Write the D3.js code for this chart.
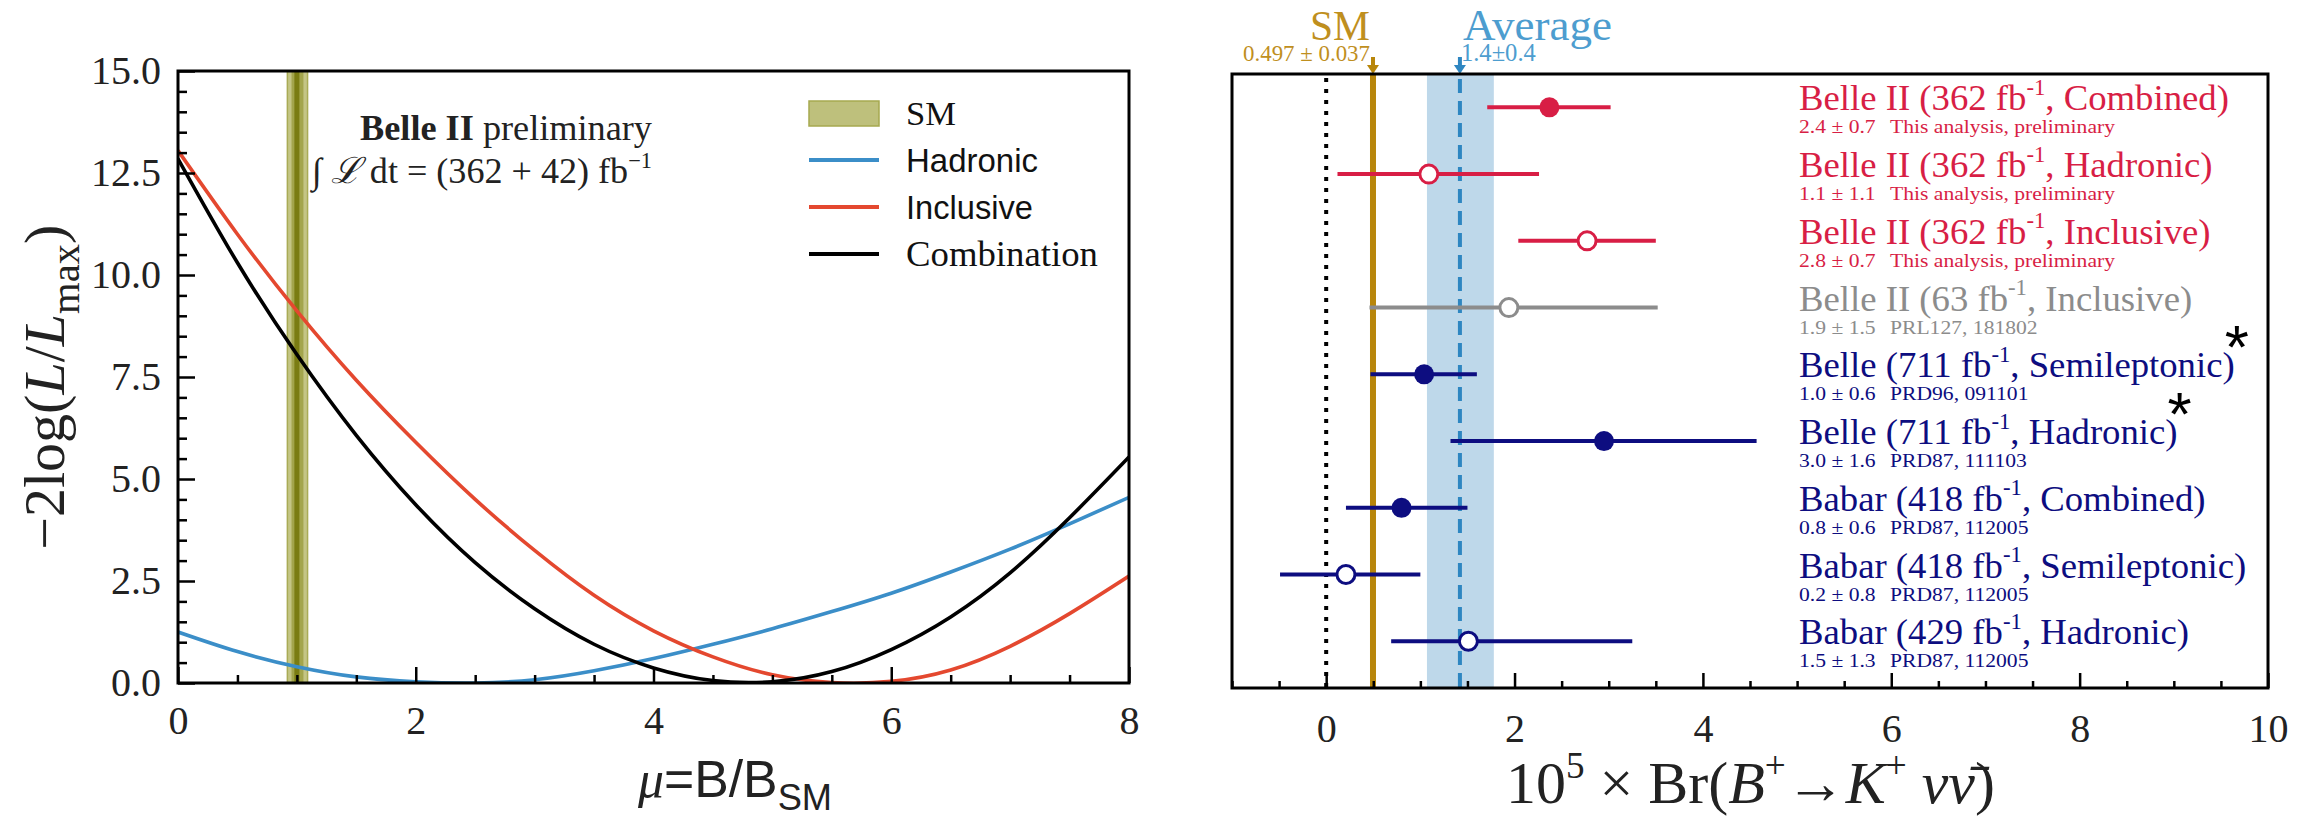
<!DOCTYPE html>
<html>
<head>
<meta charset="utf-8">
<script src="https://cdn.jsdelivr.net/npm/d3@7"></script>
<style>
  body { margin: 0; background: #fff; }
</style>
</head>
<body>
<main></main>
<script>
const sizeOfSVG = { width: 2314, height: 818 }
const serif = '"Liberation Serif", "DejaVu Serif", serif'
const sans = '"Liberation Sans", "DejaVu Sans", sans-serif'

// ---- left panel: likelihood scans vs mu ----
const muGrid = [0, 0.5, 1, 1.5, 2, 2.5, 3, 3.5, 4, 4.5, 5, 5.5, 6, 6.5, 7, 7.5, 8]
const hadronicScan = [1.25, 0.77, 0.40, 0.15, 0.03, 0.0, 0.08, 0.30, 0.60, 0.95, 1.33, 1.75, 2.20, 2.72, 3.28, 3.90, 4.55]
const inclusiveScan = [13.05, 11.0, 9.12, 7.42, 5.9, 4.5, 3.25, 2.15, 1.28, 0.64, 0.2, 0.01, 0.04, 0.32, 0.9, 1.7, 2.62]
const combinationScan = [12.85, 10.3, 8.05, 6.07, 4.37, 2.95, 1.82, 0.95, 0.37, 0.06, 0.03, 0.28, 0.82, 1.62, 2.7, 4.05, 5.54]
const smMu = 1.0
const smMuBand = [0.92, 1.09]
const smMuCore = [0.955, 1.055]
const muTicks = [0, 2, 4, 6, 8]
const nllTicks = [0, 2.5, 5, 7.5, 10, 12.5, 15]
const legendNames = ['SM', 'Hadronic', 'Inclusive', 'Combination']

// ---- right panel: measurements of Br(B+ -> K+ nu nubar) x 1e5 ----
const experiments = ['Belle II', 'Belle II', 'Belle II', 'Belle II', 'Belle', 'Belle', 'Babar', 'Babar', 'Babar']
const lumis = ['362', '362', '362', '63', '711', '711', '418', '418', '429']
const methods = ['Combined', 'Hadronic', 'Inclusive', 'Inclusive', 'Semileptonic', 'Hadronic', 'Combined', 'Semileptonic', 'Hadronic']
const brValues = [2.37, 1.09, 2.77, 1.94, 1.04, 2.95, 0.80, 0.21, 1.51]
const brLow = [1.71, 0.12, 2.04, 0.46, 0.47, 1.32, 0.21, -0.49, 0.69]
const brHigh = [3.02, 2.26, 3.50, 3.52, 1.60, 4.57, 1.50, 1.00, 3.25]
const brText = ['2.4 ± 0.7', '1.1 ± 1.1', '2.8 ± 0.7', '1.9 ± 1.5', '1.0 ± 0.6', '3.0 ± 1.6', '0.8 ± 0.6', '0.2 ± 0.8', '1.5 ± 1.3']
const references = ['This analysis, preliminary', 'This analysis, preliminary', 'This analysis, preliminary',
  'PRL127, 181802', 'PRD96, 091101', 'PRD87, 111103', 'PRD87, 112005', 'PRD87, 112005', 'PRD87, 112005']
const filledMarker = [true, false, false, false, true, true, true, false, false]
const groups = ['new', 'new', 'new', 'old', 'prev', 'prev', 'prev', 'prev', 'prev']
const starredRows = [4, 5]
const smBr = 0.497
const avgBr = 1.42
const avgBand = [1.07, 1.78]
const brTicks = [0, 2, 4, 6, 8, 10]

const groupColor = { new: '#d81e45', old: '#8c8c8c', prev: '#0d0d80' }
const scanColor = { Hadronic: '#3b8ec8', Inclusive: '#e4482f', Combination: '#000' }

const svg = d3.select('main')
  .append('svg')
  .attr('width', sizeOfSVG.width)
  .attr('height', sizeOfSVG.height)
  .style('background', '#fff')

// rich text helper: parts = [{t, i, b, s:'sup'|'sub'}]
const rich = (sel, parts, fs) => {
  let shift = 0
  sel.attr('font-size', fs)
  parts.forEach(p => {
    const t = sel.append('tspan').text(p.t)
    let target = 0
    if (p.s === 'sup') { t.attr('font-size', fs * 0.62); target = -0.42 * fs }
    if (p.s === 'sub') { t.attr('font-size', fs * 0.7); target = 0.25 * fs }
    if (p.i) t.attr('font-style', 'italic')
    if (p.b) t.attr('font-weight', 'bold')
    if (p.f) t.attr('font-family', p.f)
    if (target !== shift) { t.attr('dy', target - shift); shift = target }
  })
  return sel
}

// render, then rescale the font so the text is as wide as in the reference
const fitRich = (sel, parts, fs, width) => {
  rich(sel, parts, fs)
  const len = sel.node().getComputedTextLength()
  const fs2 = fs * width / len
  sel.selectAll('tspan').remove()
  rich(sel, parts, fs2)
  return fs2
}

const styleAxis = (g, fs) => {
  g.select('.domain').remove()
  g.selectAll('line').attr('stroke', '#000').attr('stroke-width', 2.5)
  g.attr('font-family', serif).attr('font-size', fs)
  g.selectAll('text').attr('fill', '#222')
}

/* ================= left panel ================= */
const panelL = { left: 178, right: 1129, top: 71, bottom: 683 }
const xMu = d3.scaleLinear().domain([0, 8]).range([panelL.left, panelL.right])
const yNll = d3.scaleLinear().domain([0, 15]).range([panelL.bottom, panelL.top])

svg.append('clipPath').attr('id', 'clipL').append('rect')
  .attr('x', panelL.left).attr('y', panelL.top)
  .attr('width', panelL.right - panelL.left).attr('height', panelL.bottom - panelL.top)

const plotL = svg.append('g').attr('clip-path', 'url(#clipL)')

// SM band
plotL.append('rect')
  .attr('x', xMu(smMuBand[0])).attr('width', xMu(smMuBand[1]) - xMu(smMuBand[0]))
  .attr('y', panelL.top).attr('height', panelL.bottom - panelL.top)
  .attr('fill', '#c4c585').attr('stroke', '#a9ab55').attr('stroke-width', 1.5)
plotL.append('rect')
  .attr('x', xMu(smMuCore[0])).attr('width', xMu(smMuCore[1]) - xMu(smMuCore[0]))
  .attr('y', panelL.top).attr('height', panelL.bottom - panelL.top)
  .attr('fill', '#a3a54c')
plotL.append('line')
  .attr('x1', xMu(smMu)).attr('x2', xMu(smMu))
  .attr('y1', panelL.top).attr('y2', panelL.bottom)
  .attr('stroke', '#7a7c12').attr('stroke-width', 5)

const scanLine = d3.line()
  .x((d, i) => xMu(muGrid[i]))
  .y(d => yNll(d))
  .curve(d3.curveNatural)

const scans = [['Hadronic', hadronicScan], ['Inclusive', inclusiveScan], ['Combination', combinationScan]]
scans.forEach(([name, vals]) => {
  plotL.append('path')
    .datum(vals)
    .attr('d', scanLine)
    .attr('fill', 'none')
    .attr('stroke', scanColor[name])
    .attr('stroke-width', 3.6)
})

// axes
const muMinor = d3.range(0, 8.01, 0.5).filter(d => !muTicks.includes(d))
const nllMinor = d3.range(0, 15.01, 0.5).filter(d => !nllTicks.includes(d))

svg.append('g').attr('transform', `translate(0,${panelL.bottom})`)
  .call(d3.axisBottom(xMu).tickValues(muMinor).tickSize(-8).tickFormat(''))
  .call(g => styleAxis(g, 40))
svg.append('g').attr('transform', `translate(0,${panelL.bottom})`)
  .call(d3.axisBottom(xMu).tickValues(muTicks).tickSize(-16).tickPadding(23).tickFormat(d3.format('d')))
  .call(g => styleAxis(g, 40))
svg.append('g').attr('transform', `translate(${panelL.left},0)`)
  .call(d3.axisLeft(yNll).tickValues(nllMinor).tickSize(-9).tickFormat(''))
  .call(g => styleAxis(g, 40))
svg.append('g').attr('transform', `translate(${panelL.left},0)`)
  .call(d3.axisLeft(yNll).tickValues(nllTicks).tickSize(-17).tickPadding(17).tickFormat(d3.format('.1f')))
  .call(g => styleAxis(g, 40))

svg.append('rect')
  .attr('x', panelL.left).attr('y', panelL.top)
  .attr('width', panelL.right - panelL.left).attr('height', panelL.bottom - panelL.top)
  .attr('fill', 'none').attr('stroke', '#000').attr('stroke-width', 3)

// axis titles (big glyphs, tight like the TeX original)
rich(svg.append('text')
  .attr('transform', `translate(64,${yNll(7.25)}) rotate(-90)`)
  .attr('text-anchor', 'middle')
  .attr('font-family', serif).attr('fill', '#222')
  .attr('textLength', 325).attr('lengthAdjust', 'spacingAndGlyphs'),
  [{ t: '−2log(' }, { t: 'L', i: true }, { t: '/' }, { t: 'L', i: true }, { t: 'max', s: 'sub' }, { t: ')' }], 58)

fitRich(svg.append('text')
  .attr('x', 638).attr('y', 797)
  .attr('font-family', sans).attr('fill', '#222'),
  [{ t: 'μ', i: true, f: serif }, { t: '=B/B' }, { t: 'SM', s: 'sub' }], 50, 194)

// annotation
const note = svg.append('g').attr('font-family', serif).attr('fill', '#222')
fitRich(note.append('text').attr('x', 652).attr('y', 140).attr('text-anchor', 'end'),
  [{ t: 'Belle II', b: true }, { t: ' preliminary' }], 34, 292)
fitRich(note.append('text').attr('x', 652).attr('y', 183).attr('text-anchor', 'end'),
  [{ t: '∫ ' }, { t: 'ℒ', i: true }, { t: ' dt = (362 + 42) fb' }, { t: '−1', s: 'sup' }], 34, 340)

// legend
const legendWidths = { SM: 50, Hadronic: 132, Inclusive: 127, Combination: 192 }
const legend = svg.append('g')
legendNames.forEach((name, i) => {
  const cy = 113 + i * 47
  if (name === 'SM') {
    legend.append('rect').attr('x', 809).attr('y', cy - 12).attr('width', 70).attr('height', 25)
      .attr('fill', '#bec07c').attr('stroke', '#a6a94f').attr('stroke-width', 1.5)
  } else {
    legend.append('line').attr('x1', 809).attr('x2', 879).attr('y1', cy).attr('y2', cy)
      .attr('stroke', scanColor[name]).attr('stroke-width', 4)
  }
  fitRich(legend.append('text').attr('x', 906).attr('y', cy + 12)
    .attr('font-family', (name === 'SM' || name === 'Combination') ? serif : sans)
    .attr('fill', '#111'), [{ t: name }], 34, legendWidths[name])
})

/* ================= right panel ================= */
const panelR = { left: 1232, right: 2268, top: 74, bottom: 688 }
const xBr = d3.scaleLinear().domain([-1, 10]).range([panelR.left, panelR.right])
const yRow = d3.scaleLinear().domain([-0.5, 8.7]).range([panelR.top, panelR.bottom])

const plotR = svg.append('g')

plotR.append('rect')
  .attr('x', xBr(avgBand[0])).attr('width', xBr(avgBand[1]) - xBr(avgBand[0]))
  .attr('y', panelR.top).attr('height', panelR.bottom - panelR.top)
  .attr('fill', '#bed8ea')
plotR.append('line')
  .attr('x1', xBr(0)).attr('x2', xBr(0)).attr('y1', panelR.top + 4).attr('y2', panelR.bottom)
  .attr('stroke', '#000').attr('stroke-width', 4).attr('stroke-dasharray', '4,7')
plotR.append('line')
  .attr('x1', xBr(smBr)).attr('x2', xBr(smBr)).attr('y1', panelR.top).attr('y2', panelR.bottom)
  .attr('stroke', '#b8860b').attr('stroke-width', 6)
plotR.append('line')
  .attr('x1', xBr(avgBr)).attr('x2', xBr(avgBr)).attr('y1', panelR.top + 5).attr('y2', panelR.bottom)
  .attr('stroke', '#2e86c1').attr('stroke-width', 4).attr('stroke-dasharray', '14,8')

// arrows above the frame
const arrow = (x, color) => {
  svg.append('line').attr('x1', x).attr('x2', x).attr('y1', 57).attr('y2', 67)
    .attr('stroke', color).attr('stroke-width', 4)
  svg.append('path').attr('d', `M${x - 6},65 L${x + 6},65 L${x},${panelR.top} Z`).attr('fill', color)
}
arrow(xBr(smBr), '#b8860b')
arrow(xBr(avgBr), '#2e86c1')

const topLabels = svg.append('g').attr('font-family', serif)
fitRich(topLabels.append('text').attr('x', xBr(smBr) - 3).attr('y', 40).attr('text-anchor', 'end')
  .attr('fill', '#bf8f1e'), [{ t: 'SM' }], 42, 60)
fitRich(topLabels.append('text').attr('x', xBr(smBr) - 3).attr('y', 61).attr('text-anchor', 'end')
  .attr('fill', '#bf8f1e'), [{ t: '0.497 ± 0.037' }], 22, 127)
fitRich(topLabels.append('text').attr('x', xBr(avgBr) + 3).attr('y', 40)
  .attr('fill', '#4d9dcf'), [{ t: 'Average' }], 42, 149)
fitRich(topLabels.append('text').attr('x', xBr(avgBr) + 1).attr('y', 61)
  .attr('fill', '#4d9dcf'), [{ t: '1.4±0.4' }], 22, 75)

// error bars and markers
const rows = brValues.map((v, i) => ({ i, v, lo: brLow[i], hi: brHigh[i], c: groupColor[groups[i]], filled: filledMarker[i] }))
plotR.selectAll('line.err').data(rows).enter().append('line')
  .attr('class', 'err')
  .attr('x1', d => xBr(d.lo)).attr('x2', d => xBr(d.hi))
  .attr('y1', d => yRow(d.i)).attr('y2', d => yRow(d.i))
  .attr('stroke', d => d.c).attr('stroke-width', 4)
plotR.selectAll('circle').data(rows).enter().append('circle')
  .attr('cx', d => xBr(d.v)).attr('cy', d => yRow(d.i))
  .attr('r', d => d.filled ? 10 : 9)
  .attr('fill', d => d.filled ? d.c : '#fff')
  .attr('stroke', d => d.c).attr('stroke-width', d => d.filled ? 0 : 3)

// labels
const labelX = 1799
const labelParts = i => [{ t: `${experiments[i]} (${lumis[i]} fb` }, { t: '-1', s: 'sup' }, { t: `, ${methods[i]})` }]
const labels = svg.append('g').attr('font-family', serif)
const probeMain = labels.append('text').attr('x', -9999).attr('y', -100)
const mainFs = fitRich(probeMain, labelParts(0), 34, 430)
probeMain.remove()
const probe = labels.append('text').attr('x', -9999).attr('y', -100).attr('font-size', 19).text(references[0])
const subStretch = 225 / probe.node().getComputedTextLength()
probe.remove()

rows.forEach(d => {
  const i = d.i
  const lab = rich(labels.append('text').attr('x', labelX).attr('y', yRow(i) + 3).attr('fill', d.c),
    labelParts(i), mainFs)
  const subs = [[labelX, brText[i]], [labelX + 91, references[i]]]
  subs.forEach(([x, s]) => {
    const t = labels.append('text').attr('x', x).attr('y', yRow(i) + 26)
      .attr('font-size', 19).attr('fill', d.c).text(s)
    t.attr('textLength', t.node().getComputedTextLength() * subStretch)
      .attr('lengthAdjust', 'spacingAndGlyphs')
  })
  if (starredRows.includes(i)) {
    const len = lab.node().getComputedTextLength()
    labels.append('text').attr('x', labelX + len + 2).attr('y', yRow(i) - 6)
      .attr('text-anchor', 'middle')
      .attr('font-family', sans).attr('font-size', 62).attr('fill', '#000').text('*')
  }
})

// axes
const brMinor = d3.range(-1, 10.01, 0.5).filter(d => !brTicks.includes(d))
svg.append('g').attr('transform', `translate(0,${panelR.bottom})`)
  .call(d3.axisBottom(xBr).tickValues(brMinor).tickSize(-7).tickFormat(''))
  .call(g => styleAxis(g, 40))
svg.append('g').attr('transform', `translate(0,${panelR.bottom})`)
  .call(d3.axisBottom(xBr).tickValues(brTicks).tickSize(-15).tickPadding(26).tickFormat(d3.format('d')))
  .call(g => styleAxis(g, 40))

svg.append('rect')
  .attr('x', panelR.left).attr('y', panelR.top)
  .attr('width', panelR.right - panelR.left).attr('height', panelR.bottom - panelR.top)
  .attr('fill', 'none').attr('stroke', '#000').attr('stroke-width', 3)

fitRich(svg.append('text')
  .attr('x', 1506).attr('y', 803)
  .attr('font-family', serif).attr('fill', '#222'),
  [{ t: '10' }, { t: '5', s: 'sup' }, { t: ' × Br(' }, { t: 'B', i: true }, { t: '+', s: 'sup' },
   { t: '→' }, { t: 'K', i: true }, { t: '+', s: 'sup' }, { t: ' ' }, { t: 'νν̄', i: true }, { t: ')' }], 46, 489)
</script>
</body>
</html>
